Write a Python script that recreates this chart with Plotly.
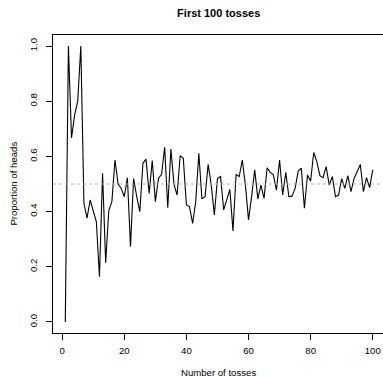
import plotly.graph_objects as go

tosses = list(range(1, 101))
proportion = [
    0.0, 1.0, 0.667, 0.75, 0.8, 1.0, 0.43, 0.376, 0.442, 0.40,
    0.363, 0.164, 0.539, 0.215, 0.403, 0.436, 0.587, 0.50, 0.484, 0.454,
    0.523, 0.273, 0.52, 0.454, 0.40, 0.575, 0.59, 0.466, 0.585, 0.436,
    0.52, 0.535, 0.633, 0.414, 0.627, 0.499, 0.46, 0.603, 0.593, 0.424,
    0.418, 0.357, 0.436, 0.611, 0.446, 0.454, 0.571, 0.496, 0.388, 0.52,
    0.527, 0.406, 0.442, 0.48, 0.33, 0.535, 0.527, 0.587, 0.496, 0.37,
    0.454, 0.551, 0.446, 0.496, 0.448, 0.559, 0.542, 0.533, 0.478, 0.587,
    0.46, 0.542, 0.454, 0.456, 0.484, 0.547, 0.557, 0.412, 0.533, 0.51,
    0.614, 0.581, 0.53, 0.523, 0.563, 0.496, 0.527, 0.454, 0.46, 0.52,
    0.484, 0.53, 0.472, 0.52, 0.545, 0.571, 0.472, 0.523, 0.487, 0.551,
]
x_ticks = [0, 20, 40, 60, 80, 100]
y_ticks = [0.0, 0.2, 0.4, 0.6, 0.8, 1.0]
y_tick_labels = ["0.0", "0.2", "0.4", "0.6", "0.8", "1.0"]
reference_level = 0.5

FONT = "Liberation Sans, Arial, Helvetica, sans-serif"

fig = go.Figure()
fig.add_trace(go.Scatter(
    x=tosses, y=proportion, mode="lines",
    line=dict(color="black", width=1.1),
    showlegend=False, hoverinfo="skip",
))
fig.add_hline(y=reference_level, line=dict(color="#b4b4b4", width=1, dash="3px,3px"))

W, H = 383, 378
L, R, T, B = 52.5, 0, 35, 45
fig.update_layout(
    width=W, height=H,
    margin=dict(l=L, r=R, t=T, b=B, pad=0),
    paper_bgcolor="white", plot_bgcolor="white",
    font=dict(family=FONT, size=9.6, color="black"),
    title=dict(text="<b>First 100 tosses</b>", font=dict(size=11, family=FONT, color="black"),
               x=218.7 / W, xanchor="center", y=1 - 13 / H, yanchor="middle"),
    xaxis=dict(range=[-2.96, 103.31], tickvals=x_ticks, ticks="outside", ticklen=6,
               tickcolor="black", showline=True, linecolor="black", linewidth=1,
               mirror=True, showgrid=False, zeroline=False, ticklabelstandoff=2,
               tickfont=dict(size=9.6, color="black")),
    yaxis=dict(range=[-0.04, 1.04], tickvals=y_ticks, ticktext=y_tick_labels,
               ticks="outside", ticklen=6, tickcolor="black", tickangle=-90,
               showline=True, linecolor="black", linewidth=1, mirror=False,
               showgrid=False, zeroline=False, ticklabelstandoff=5,
               tickfont=dict(size=9.6, color="black")),
    annotations=[
        dict(text="Number of tosses", xref="paper", yref="paper",
             x=(218.7 - L) / (W - L), y=(333 - 372) / 298, xanchor="center", yanchor="middle",
             showarrow=False, font=dict(size=9.6, color="black")),
        dict(text="Proportion of heads", xref="paper", yref="paper",
             x=(12 - L) / (W - L), y=0.5, xanchor="center", yanchor="middle",
             textangle=-90, showarrow=False, font=dict(size=9.6, color="black")),
    ],
)

fig.write_html("out.html")
